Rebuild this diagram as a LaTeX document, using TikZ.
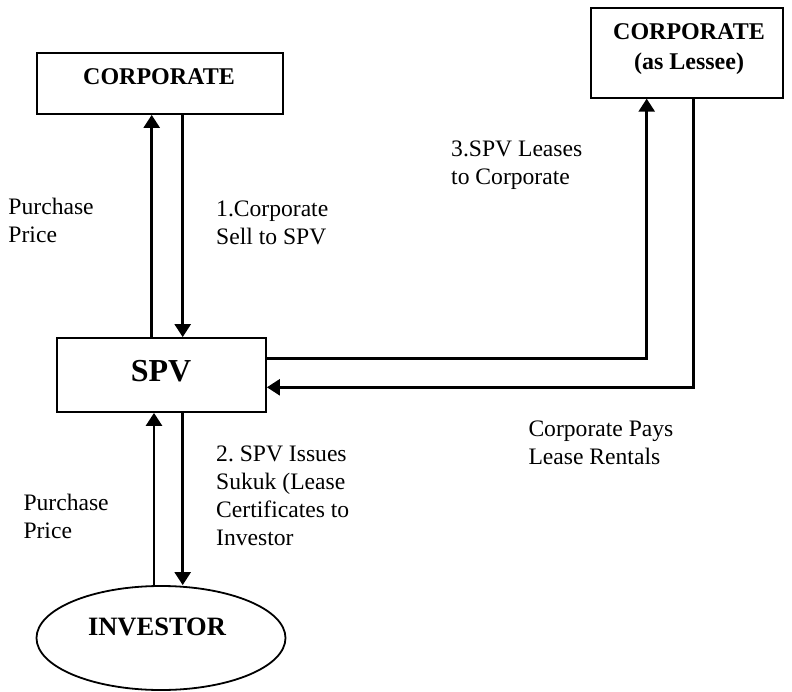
\documentclass[tikz,border=0pt]{standalone}
\usepackage{fontspec}
\setmainfont{Liberation Serif}
\usetikzlibrary{arrows.meta,shapes.geometric}
\frenchspacing

\tikzset{
  box/.style={draw, line width=1.8pt, rectangle, inner sep=0pt},
  oval/.style={draw, line width=1.8pt, ellipse, inner sep=0pt},
  flow/.style={line width=2.6pt, -{Triangle[length=13pt,width=16pt]}},
  % multi-line labels: the base anchor sits on the last line
  lbl/.style={inner sep=0pt, align=left, anchor=base west,
              font=\fontsize{23.6}{28}\selectfont},
  title/.style={inner sep=0pt, align=center, anchor=base,
                font=\bfseries\fontsize{24}{30}\selectfont}
}

\begin{document}
\begin{tikzpicture}[x=1pt,y=-1pt]
  \useasboundingbox (0,0) rectangle (792,692);

  % parties
  \node[box, minimum width=246pt, minimum height=61pt] (corp) at (160,83.5) {};
  \node[title] (corptxt) at (159,85) {CORPORATE};

  \node[box, minimum width=192pt, minimum height=89.5pt] (lessee) at (687,53) {};
  \node[title] (lesseetxt) at (689,70) {CORPORATE\\(as Lessee)};

  \node[box, minimum width=209pt, minimum height=74pt] (spv) at (161.5,375) {};
  \node[title, font=\bfseries\fontsize{32}{40}\selectfont] (spvtxt) at (161,381.7) {SPV};

  \node[oval, minimum width=249pt, minimum height=104pt] (inv) at (161,638) {};
  \node[title, font=\bfseries\fontsize{26.5}{30}\selectfont] (invtxt) at (157,635) {INVESTOR};

  % x and y positions of the flows
  \coordinate (xup1) at (151.7,0);
  \coordinate (xdn1) at (182.7,0);
  \coordinate (xup2) at (154,0);
  \coordinate (xdn2) at (182.7,0);
  \coordinate (xlease) at (646.7,0);
  \coordinate (xrent) at (693.3,0);
  \coordinate (ylease) at (0,358.3);
  \coordinate (yrent) at (0,387.3);

  % Corporate <-> SPV
  \draw[flow] (spv.north -| xup1) -- (corp.south -| xup1);
  \draw[flow] (corp.south -| xdn1) -- (spv.north -| xdn1);

  % SPV <-> Investor
  \draw[flow] (inv.north -| xup2) -- (spv.south -| xup2);
  \draw[flow] (spv.south -| xdn2) -- (inv.north -| xdn2);

  % SPV leases to the lessee
  \draw[flow] (spv.east |- ylease) -- (xlease |- ylease) -- (lessee.south -| xlease);

  % lease rentals back to SPV
  \draw[flow] (lessee.south -| xrent) -- (xrent |- yrent) -- (spv.east |- yrent);

  % flow labels
  \node[lbl] (pp1) at (8.3,243) {Purchase\\Price};
  \node[lbl] (sell) at (216,245) {1.Corporate\\Sell to SPV};
  \node[lbl] (lease) at (451,185) {3.SPV Leases\\to Corporate};
  \node[lbl] (pays) at (528.3,464.3) {Corporate Pays\\Lease Rentals};
  \node[lbl] (pp2) at (23.3,538) {Purchase\\Price};
  \node[lbl] (issue) at (216,545) {2. SPV Issues\\Sukuk (Lease\\Certificates to\\Investor};
\end{tikzpicture}
\end{document}
